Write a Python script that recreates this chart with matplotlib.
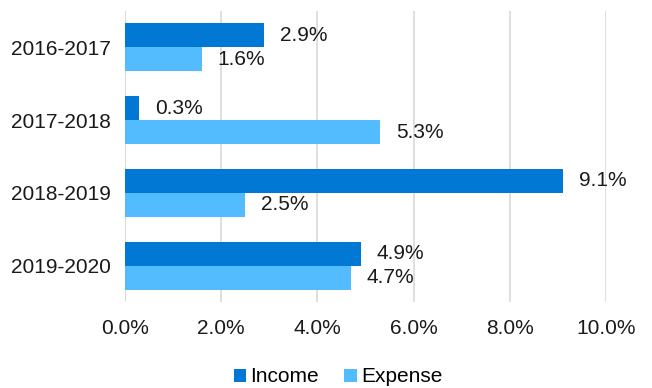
import numpy as np
import matplotlib.pyplot as plt

plt.rcParams['font.family'] = ['Liberation Sans', 'DejaVu Sans']

# annual growth by fiscal year
years = ['2016-2017', '2017-2018', '2018-2019', '2019-2020']
income = [2.9, 0.3, 9.1, 4.9]
expense = [1.6, 5.3, 2.5, 4.7]
xticks = [0, 2, 4, 6, 8, 10]

income_color = '#0078D4'
expense_color = '#52BCFF'
fs = 15

fig = plt.figure(figsize=(6.52, 3.88), dpi=100)
ax = fig.add_axes([125 / 652, 1 - 302 / 388, (606 - 125) / 652, 291 / 388])

y = np.arange(len(years))
h = 0.33
ax.barh(y - h / 2, income, height=h, color=income_color, label='Income', zorder=3)
ax.barh(y + h / 2, expense, height=h, color=expense_color, label='Expense', zorder=3)

# value labels just past the end of each bar
for i in range(len(years)):
    ax.text(income[i] + 0.33, y[i] - h / 2, f'{income[i]:.1f}%', va='center', ha='left', fontsize=fs, color='#1a1a1a')
    ax.text(expense[i] + 0.33, y[i] + h / 2, f'{expense[i]:.1f}%', va='center', ha='left', fontsize=fs, color='#1a1a1a')

ax.set_xlim(0, 10)
ax.set_ylim(len(years) - 0.5, -0.5)
ax.set_xticks(xticks)
ax.set_xticklabels([f'{t:.1f}%' for t in xticks], fontsize=fs, color='#1a1a1a')
ax.set_yticks(y)
ax.set_yticklabels(years, fontsize=fs, color='#1a1a1a')
ax.tick_params(length=0, pad=12)
ax.tick_params(axis='y', pad=10)
ax.xaxis.grid(True, color='#d9d9d9', linewidth=1.2, zorder=0)
for s in ax.spines.values():
    s.set_visible(False)
ax.axvline(0, color='#d9d9d9', linewidth=1.2, zorder=1)

fig.legend(loc='center', bbox_to_anchor=(338 / 652, 1 - 377 / 388), ncol=2, frameon=False,
           fontsize=fs, handlelength=0.6, handleheight=0.6, handletextpad=0.2, columnspacing=1.2)

fig.savefig('out.png', dpi=100)
